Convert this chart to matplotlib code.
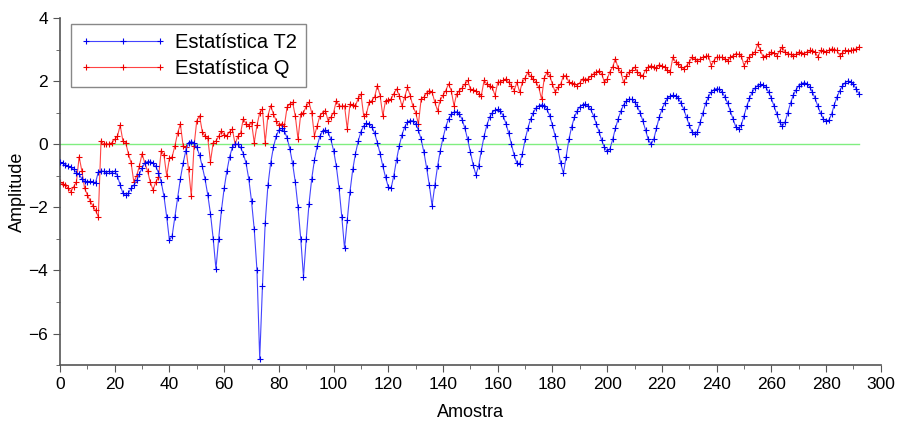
import matplotlib
matplotlib.use("Agg")
import matplotlib.pyplot as plt
import numpy as np

# Data
t2 = [
    -0.58, -0.6, -0.65, -0.7, -0.72, -0.8, -0.9, -0.95, -1.1, -1.17,
    -1.2, -1.18, -1.2, -1.22, -0.88, -0.85, -0.86, -0.9, -0.85, -0.9,
    -0.85, -1.0, -1.3, -1.55, -1.62, -1.55, -1.4, -1.3, -1.15, -0.95,
    -0.75, -0.6, -0.55, -0.55, -0.6, -0.7, -0.9, -1.2, -1.65, -2.3,
    -3.05, -2.9, -2.3, -1.7, -1.1, -0.6, -0.2, 0.05, 0.08, 0.05,
    -0.1, -0.35, -0.7, -1.1, -1.6, -2.2, -3.0, -3.95, -3.0, -2.1,
    -1.4, -0.85, -0.4, -0.1, 0.0, 0.0, -0.1, -0.3, -0.6, -1.1,
    -1.8, -2.7, -4.0, -6.8, -4.5, -2.5, -1.3, -0.6, -0.1, 0.25,
    0.45, 0.5, 0.42, 0.2, -0.15, -0.6, -1.2, -2.0, -3.0, -4.2,
    -3.0, -1.9, -1.1, -0.5, -0.05, 0.25, 0.42, 0.45, 0.38, 0.15,
    -0.2, -0.7, -1.4, -2.3, -3.3, -2.4, -1.5, -0.8, -0.3, 0.1,
    0.4, 0.58, 0.66, 0.65, 0.55, 0.35, 0.05, -0.3, -0.7, -1.05,
    -1.35, -1.4, -1.0, -0.5, -0.05, 0.3, 0.55, 0.7, 0.75, 0.74,
    0.65, 0.45, 0.15, -0.25, -0.75, -1.3, -1.95, -1.3, -0.7, -0.2,
    0.2, 0.55, 0.8, 0.95, 1.02, 1.03, 0.95, 0.78, 0.5, 0.15,
    -0.25, -0.65, -0.97, -0.7, -0.2, 0.25, 0.6, 0.85, 1.0, 1.08,
    1.1, 1.05, 0.9, 0.65, 0.35, 0.0, -0.35, -0.6, -0.62, -0.3,
    0.15, 0.5, 0.8, 1.0, 1.15, 1.22, 1.25, 1.22, 1.1, 0.9,
    0.6, 0.25, -0.15, -0.6, -0.92, -0.4, 0.15, 0.55, 0.85, 1.05,
    1.18, 1.25, 1.27, 1.22, 1.1, 0.9, 0.65, 0.4, 0.12, -0.1,
    -0.23, -0.15, 0.15, 0.5, 0.8, 1.05, 1.25, 1.37, 1.43, 1.42,
    1.35, 1.2, 1.0, 0.75, 0.45, 0.15, 0.0, 0.15, 0.5, 0.85,
    1.1, 1.3, 1.45, 1.52, 1.55, 1.53, 1.45, 1.3, 1.1, 0.85,
    0.6, 0.4, 0.32, 0.4, 0.7, 1.0, 1.3, 1.5, 1.65, 1.73,
    1.76, 1.74, 1.65, 1.5, 1.3, 1.05, 0.8, 0.55, 0.48, 0.6,
    0.9, 1.2, 1.45, 1.65, 1.78, 1.86, 1.9, 1.88, 1.8, 1.65,
    1.45, 1.2, 0.95, 0.7, 0.58, 0.7, 1.0, 1.3, 1.55, 1.72,
    1.85, 1.92, 1.95, 1.92, 1.82, 1.65, 1.45, 1.2, 0.98, 0.8,
    0.74, 0.76, 0.95, 1.25, 1.5, 1.7, 1.85, 1.95, 2.0, 1.98,
    1.9, 1.75, 1.6,
]

q = [
    -1.2, -1.25, -1.3, -1.4, -1.5, -1.35, -1.2, -0.4, -0.85, -1.4,
    -1.6, -1.8, -1.95, -2.1, -2.3, 0.1, 0.0, 0.02, 0.0, 0.05,
    0.15, 0.25, 0.6, 0.1, 0.05, -0.3, -0.6, -1.2, -1.0, -0.7,
    -0.3, -0.6, -0.85, -1.2, -1.45, -1.2, -1.05, -0.2, -0.35, -1.0,
    -0.45, -0.4, -0.05, 0.35, 0.64, -0.05, -0.1, -0.8, -1.65, -0.05,
    0.75, 0.9, 0.4, 0.25, 0.2, -0.55, 0.05, 0.1, 0.25, 0.42,
    0.3, 0.27, 0.4, 0.48, 0.0, 0.25, 0.35, 0.8, 0.65, 0.58,
    0.69, 0.05, 0.6, 1.0, 1.1, 0.05, 0.9, 1.22, 0.96, 0.75,
    0.6, 0.65, 0.58, 1.17, 1.28, 1.33, 0.9, 0.16, 0.96, 1.0,
    1.2, 1.33, 1.0, 0.27, 0.58, 0.9, 1.0, 1.06, 0.74, 0.85,
    1.0, 1.38, 1.22, 1.2, 1.22, 0.48, 1.27, 1.25, 1.22, 1.45,
    1.59, 0.9, 0.96, 1.33, 1.38, 1.5, 1.86, 1.54, 0.9, 1.38,
    1.4, 1.43, 1.6, 1.75, 1.54, 1.2, 1.5, 1.8, 1.54, 1.2,
    1.0, 0.64, 1.43, 1.49, 1.62, 1.7, 1.65, 1.33, 1.06, 1.4,
    1.55, 1.7, 1.91, 1.7, 1.22, 1.6, 1.7, 1.78, 1.9, 2.02,
    1.75, 1.72, 1.7, 1.6, 1.54, 2.02, 1.91, 1.85, 1.8, 1.54,
    1.96, 1.98, 2.02, 2.07, 1.96, 1.85, 1.7, 1.96, 1.65, 1.96,
    2.1, 2.28, 2.15, 2.07, 1.96, 1.8, 1.43, 2.1, 2.28, 2.17,
    1.9, 1.65, 1.8, 1.9, 2.17, 2.17, 1.96, 1.95, 1.91, 1.86,
    1.95, 2.07, 2.05, 2.07, 2.15, 2.23, 2.28, 2.33, 2.23, 1.96,
    2.07, 2.3, 2.45, 2.71, 2.4, 2.28, 1.96, 2.15, 2.28, 2.35,
    2.44, 2.3, 2.2, 2.17, 2.35, 2.45, 2.49, 2.44, 2.4, 2.52,
    2.48, 2.44, 2.35, 2.28, 2.76, 2.6, 2.55, 2.45, 2.39, 2.49,
    2.6, 2.76, 2.7, 2.65, 2.7, 2.76, 2.78, 2.81, 2.49, 2.65,
    2.76, 2.75, 2.76, 2.7, 2.65, 2.75, 2.81, 2.87, 2.85, 2.81,
    2.49, 2.65, 2.76, 2.85, 2.92, 3.18, 2.97, 2.76, 2.81, 2.85,
    2.92, 2.88, 2.81, 2.95, 3.08, 2.92, 2.87, 2.85, 2.81, 2.85,
    2.92, 2.9, 2.87, 2.93, 2.97, 2.95, 2.92, 2.76, 2.97, 2.95,
    2.92, 2.98, 3.02, 3.0, 2.97, 2.81, 2.9, 2.97, 2.95, 2.97,
    3.0, 3.02, 3.08,
]

amostra = np.arange(len(t2))
zero_line = [0, len(t2) - 1]

plt.rcParams['font.family'] = ['Liberation Sans', 'DejaVu Sans']

fig = plt.figure(figsize=(9.02, 4.28), dpi=100)
ax = fig.add_axes([0.0665, 0.147, 0.91, 0.811])

ax.plot(zero_line, [0, 0], color='#80ee80', lw=1, zorder=1)
ax.plot(amostra, t2, color='#4444ff', lw=0.8, marker='+', ms=4.5, mew=0.8,
        mec='#0000ee', label='Estatística T2', zorder=3)
ax.plot(amostra, q, color='#ff4444', lw=0.8, marker='+', ms=4.5, mew=0.8,
        mec='#ee0000', label='Estatística Q', zorder=2)

ax.set_xlim(0, 300)
ax.set_ylim(-7, 4)
ax.set_xticks(np.arange(0, 301, 20))
ax.set_xticks(np.arange(0, 301, 10), minor=True)
ax.set_yticks([-6, -4, -2, 0, 2, 4])
ax.set_yticks(np.arange(-7, 5, 1), minor=True)

for side in ['top', 'right']:
    ax.spines[side].set_visible(False)
for side in ['left', 'bottom']:
    ax.spines[side].set_color('#555555')
    ax.spines[side].set_linewidth(1.2)
ax.tick_params(which='major', direction='out', length=5, color='#555555',
               labelsize=12.5)
ax.tick_params(which='minor', direction='out', length=3, color='#555555')

ax.set_xlabel('Amostra', fontsize=13, labelpad=9)
ax.set_ylabel('Amplitude', fontsize=13, labelpad=2)

leg = ax.legend(loc='upper left', bbox_to_anchor=(0.008, 0.995), fontsize=14.5,
                numpoints=3, handlelength=4.3, handletextpad=0.45,
                fancybox=False, framealpha=1,
                borderaxespad=0.2, labelspacing=0.35, borderpad=0.45)
leg.get_frame().set_edgecolor('#888888')
leg.get_frame().set_linewidth(1.0)

fig.savefig('out.png', dpi=100)
